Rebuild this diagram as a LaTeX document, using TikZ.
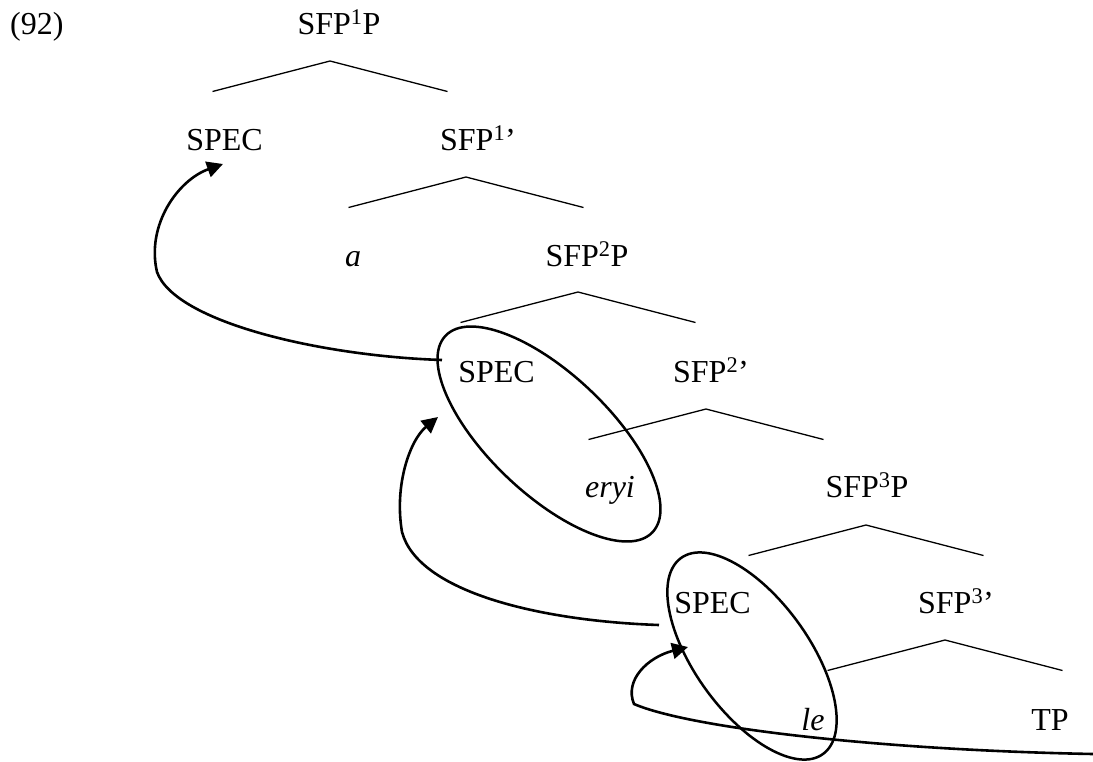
\documentclass[tikz,border=0pt]{standalone}
\usepackage{fontspec}
\setmainfont{Liberation Serif}
\usetikzlibrary{arrows.meta}
\begin{document}
\begin{tikzpicture}[x=1pt,y=-1pt,
  lbl/.style={anchor=base,inner sep=0pt,font=\fontsize{32}{37}\selectfont},
  branch/.style={line width=1.3pt,line join=miter},
  ring/.style={line width=2.5pt},
  move/.style={line width=2.6pt,-{Triangle[length=16pt,width=16pt]}}]
\useasboundingbox (0,0) rectangle (1093,761);

% example number
\node[lbl,anchor=base west] (ex) at (10,34) {(92)};

% node labels
\node[lbl] (sfp1p) at (339,34) {SFP\textsuperscript{1}P};
\node[lbl] (spec1) at (224.5,150) {SPEC};
\node[lbl] (sfp1b) at (478,150) {SFP\textsuperscript{1}’};
\node[lbl] (a)     at (353,266) {\itshape a};
\node[lbl] (sfp2p) at (587,266) {SFP\textsuperscript{2}P};
\node[lbl] (spec2) at (496.5,382) {SPEC};
\node[lbl] (sfp2b) at (711,382) {SFP\textsuperscript{2}’};
\node[lbl] (eryi)  at (610,497) {\itshape eryi};
\node[lbl] (sfp3p) at (867,497) {SFP\textsuperscript{3}P};
\node[lbl] (spec3) at (712.5,613) {SPEC};
\node[lbl] (sfp3b) at (956,613) {SFP\textsuperscript{3}’};
\node[lbl] (le)    at (813,730) {\itshape le};
\node[lbl] (tp)    at (1050,730) {TP};

% branching points: apex and the two branch ends of every level
\foreach \n/\ax/\ay in {1/330/61, 2/466/177, 3/578/292, 4/706/409, 5/866/525, 6/945/640}{
  \coordinate (top\n) at (\ax,\ay);
  \coordinate (lft\n) at ({\ax-117.5},{\ay+30.5});
  \coordinate (rgt\n) at ({\ax+117.5},{\ay+30.5});
  \draw[branch] (lft\n) -- (top\n) -- (rgt\n);
}

% constituents that move
\draw[ring,rotate around={-43.5:(549,434)}] (549,434) ellipse [x radius=142.7, y radius=60.1];
\draw[ring,rotate around={-54.1:(752,656)}] (752,656) ellipse [x radius=121, y radius=57];

% ends of the movement arrows
\coordinate (m1s) at (442,360);
\coordinate (m1e) at (223,164);
\coordinate (m2s) at (659,625);
\coordinate (m2e) at (438,417);
\coordinate (m3s) at (1093,754);
\coordinate (m3e) at (688,647);

\draw[move] (m1s) .. controls (320,356) and (175,322) .. (157,272)
                  .. controls (146,225) and (178,180) .. (m1e);
\draw[move] (m2s) .. controls (540,621) and (418,592) .. (402,532)
                  .. controls (394,485) and (410,440) .. (m2e);
\draw[move] (m3s) .. controls (880,750) and (690,728) .. (634,704)
                  .. controls (624,680) and (648,657) .. (m3e);
\end{tikzpicture}
\end{document}
